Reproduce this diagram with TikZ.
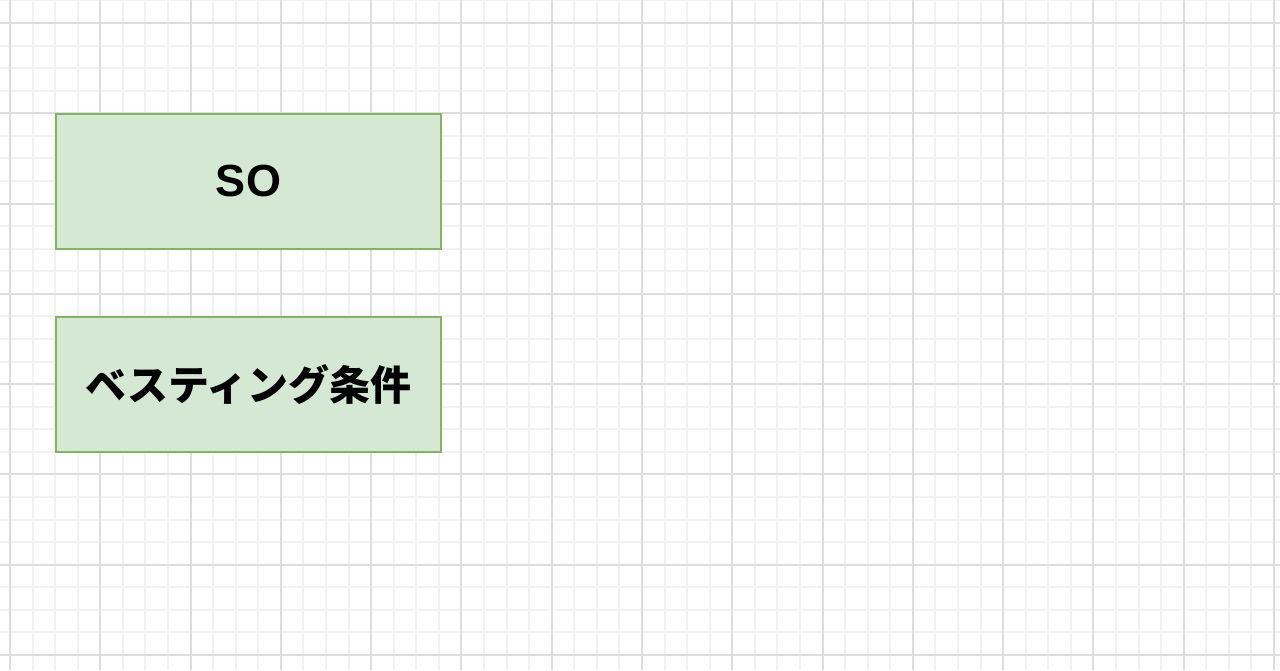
\documentclass[tikz,border=0pt]{standalone}
\usepackage{fontspec}
\setmainfont{Liberation Sans}
\newfontfamily\jpfont{Noto Sans CJK JP}
\definecolor{boxfill}{HTML}{D5E8D4}
\definecolor{boxline}{HTML}{82B366}
\definecolor{gridmajor}{HTML}{DDDDDD}
\definecolor{gridminor}{HTML}{F2F2F2}
\tikzset{
  box/.style={draw=boxline, fill=boxfill, line width=1.5pt, minimum width=385pt, minimum height=135pt, inner sep=0pt, text=black},
  minorline/.style={gridminor, line width=2pt},
  majorline/.style={gridmajor, line width=1.6pt}
}
\begin{document}
\begin{tikzpicture}[x=1pt,y=-1pt]
\useasboundingbox (0,0) rectangle (1280,670);
\fill[white] (0,0) rectangle (1280,670);
% minor grid
\foreach \i in {0,...,58}{
  \pgfmathsetmacro\xx{round(10-22.5714+\i*22.5714)}
  \draw[minorline] (\xx,0) -- (\xx,670);
}
\foreach \i in {0,...,30}{
  \pgfmathsetmacro\yy{round(23-22.5714+\i*22.5714)}
  \draw[minorline] (0,\yy) -- (1280,\yy);
}
% major grid
\foreach \i in {0,...,14}{
  \pgfmathsetmacro\xx{round(10+\i*90.2857)}
  \draw[majorline] (\xx,0) -- (\xx,670);
}
\foreach \i in {0,...,7}{
  \pgfmathsetmacro\yy{round(23+\i*90.2857)}
  \draw[majorline] (0,\yy) -- (1280,\yy);
}
\node[box, font=\fontsize{45}{50}\selectfont\bfseries] (so) at (248.5,181.5) {SO};
\node[box, font=\jpfont\fontsize{41}{46}\selectfont\bfseries] (vest) at (248.5,384.5) {ベスティング条件};
\end{tikzpicture}
\end{document}
